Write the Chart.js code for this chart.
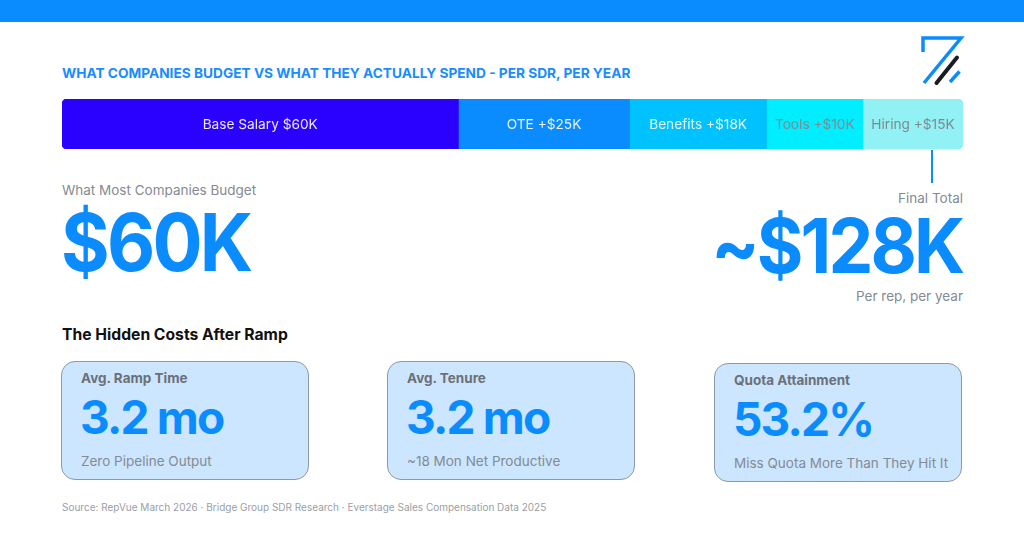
<!DOCTYPE html>
<html>
<head>
<meta charset="utf-8">
<script src="https://cdn.jsdelivr.net/npm/chart.js@4"></script>
<style>
  html, body { margin: 0; padding: 0; }
  body { width: 1024px; height: 534px; position: relative; overflow: hidden; background: #fff; font-family: Inter, "Noto Sans", sans-serif; }
  .abs { position: absolute; white-space: nowrap; }
  .topband { left: 0; top: 0; width: 1024px; height: 22px; background: #0a8cff; }
  .title { left: 62px; top: 65px; font-size: 13.7px; font-weight: 700; color: #1a8cff; }
  .barbox { left: 62px; top: 99px; width: 901px; height: 50px; }
  .gray { color: #858b92; font-size: 13.5px; line-height: 16px; }
  .big { font-weight: 700; color: #0a8cff; line-height: 1; letter-spacing: -3px; }
  .tick { left: 931px; top: 150px; width: 2px; height: 33px; background: #0a8cff; }
  .hidden { left: 62px; top: 325px; font-size: 15.7px; font-weight: 700; color: #111; }
  .card { position: absolute; width: 248px; height: 119px; box-sizing: border-box; background: #cce6ff; border: 1.5px solid #8d99a6; border-radius: 14px; }
  .card .h { position: absolute; left: 19px; top: 8px; font-size: 13.5px; font-weight: 700; color: #6b7077; }
  .card .v { position: absolute; left: 18px; top: 32px; font-size: 46px; font-weight: 700; color: #0a8cff; letter-spacing: -1.8px; line-height: 1; }
  .card .s { position: absolute; left: 19px; top: 91px; font-size: 13.5px; color: #858b92; }
  .source { left: 62px; top: 501px; font-size: 10px; color: #9aa0a6; }
</style>
</head>
<body>
<div class="abs topband"></div>
<div class="abs title">WHAT COMPANIES BUDGET VS WHAT THEY ACTUALLY SPEND - PER SDR, PER YEAR</div>

<svg class="abs" style="left:920px;top:34px" width="46" height="52" viewBox="0 0 46 52">
  <path d="M3 18 V4 H41 L4 49" fill="none" stroke="#0a8cff" stroke-width="3.5" stroke-linejoin="miter"/>
  <line x1="16.5" y1="49" x2="37" y2="23.5" stroke="#1c1c1c" stroke-width="4" stroke-linecap="round"/>
  <line x1="30" y1="48" x2="39.5" y2="37.5" stroke="#0a8cff" stroke-width="3.5"/>
</svg>

<div class="abs barbox"><canvas id="costBar"></canvas></div>
<div class="abs tick"></div>

<div class="abs gray" style="left:62px;top:182px;">What Most Companies Budget</div>
<div class="abs big" style="left:61px;top:202px;font-size:80px;transform:scaleX(0.93);transform-origin:left center;">$60K</div>

<div class="abs gray" style="right:61px;top:190px;">Final Total</div>
<div class="abs big" style="right:62px;top:208px;font-size:75px;transform:scaleX(0.95);transform-origin:right center;">~$128K</div>
<div class="abs gray" style="right:61px;top:288px;">Per rep, per year</div>

<div class="abs hidden">The Hidden Costs After Ramp</div>

<div id="cards"></div>

<div class="abs source">Source: RepVue March 2026 · Bridge Group SDR Research · Everstage Sales Compensation Data 2025</div>

<script>
// cost build-up per SDR, $K per year
const segmentNames = ['Base Salary', 'OTE', 'Benefits', 'Tools', 'Hiring'];
const segmentValues = [60, 25, 18, 10, 15];
// share of the bar each segment takes as drawn in the graphic (%), not to scale with $
const segmentShare = [44, 19, 15.2, 10.7, 11.1];
const segmentLabels = ['Base Salary $60K', 'OTE +$25K', 'Benefits +$18K', 'Tools +$10K', 'Hiring +$15K'];
const segmentColors = ['#2a00ff', '#0a8cff', '#00c2ff', '#00eeff', '#92f1f4'];
const labelColors = ['#e8eaff', '#e6f3ff', '#e6f7ff', '#7d8b90', '#7d8a90'];

// hidden cost cards
const cardTitles = ['Avg. Ramp Time', 'Avg. Tenure', 'Quota Attainment'];
const cardValues = ['3.2 mo', '3.2 mo', '53.2%'];
const cardNotes = ['Zero Pipeline Output', '~18 Mon Net Productive', 'Miss Quota More Than They Hit It'];
const cardLeft = [61, 387, 714];
const cardTop = [361, 361, 363];

const cardsEl = document.getElementById('cards');
cardTitles.forEach((t, i) => {
    const c = document.createElement('div');
    c.className = 'card';
    c.style.left = cardLeft[i] + 'px';
    c.style.top = cardTop[i] + 'px';
    c.innerHTML = `<div class="h">${t}</div><div class="v">${cardValues[i]}</div><div class="s">${cardNotes[i]}</div>`;
    cardsEl.appendChild(c);
});

// text in the middle of each segment
const segmentText = {
    id: 'segmentText',
    afterDatasetsDraw(chart) {
        const ctx = chart.ctx;
        ctx.save();
        ctx.font = '13.7px Inter, "Noto Sans", sans-serif';
        ctx.textAlign = 'center';
        ctx.textBaseline = 'middle';
        chart.data.datasets.forEach((ds, i) => {
            const bar = chart.getDatasetMeta(i).data[0];
            if (!bar) return;
            ctx.fillStyle = labelColors[i];
            ctx.fillText(segmentLabels[i], (bar.base + bar.x) / 2, bar.y + 1);
        });
        ctx.restore();
    }
};

const last = segmentNames.length - 1;

new Chart(document.getElementById('costBar'), {
    type: 'bar',
    data: {
        labels: ['Cost'],
        datasets: segmentNames.map((n, i) => ({
            label: n,
            data: [segmentShare[i]],
            backgroundColor: segmentColors[i],
            borderWidth: 0,
            borderSkipped: false,
            borderRadius: {
                topLeft: i === 0 ? 5 : 0,
                bottomLeft: i === 0 ? 5 : 0,
                topRight: i === last ? 5 : 0,
                bottomRight: i === last ? 5 : 0
            },
            barPercentage: 1,
            categoryPercentage: 1
        }))
    },
    options: {
        indexAxis: 'y',
        responsive: true,
        maintainAspectRatio: false,
        animation: false,
        layout: { padding: 0 },
        plugins: { legend: { display: false }, tooltip: { enabled: false } },
        scales: {
            x: { stacked: true, display: false, min: 0, max: segmentShare.reduce((a, b) => a + b, 0) },
            y: { stacked: true, display: false }
        }
    },
    plugins: [segmentText]
});
</script>
</body>
</html>
